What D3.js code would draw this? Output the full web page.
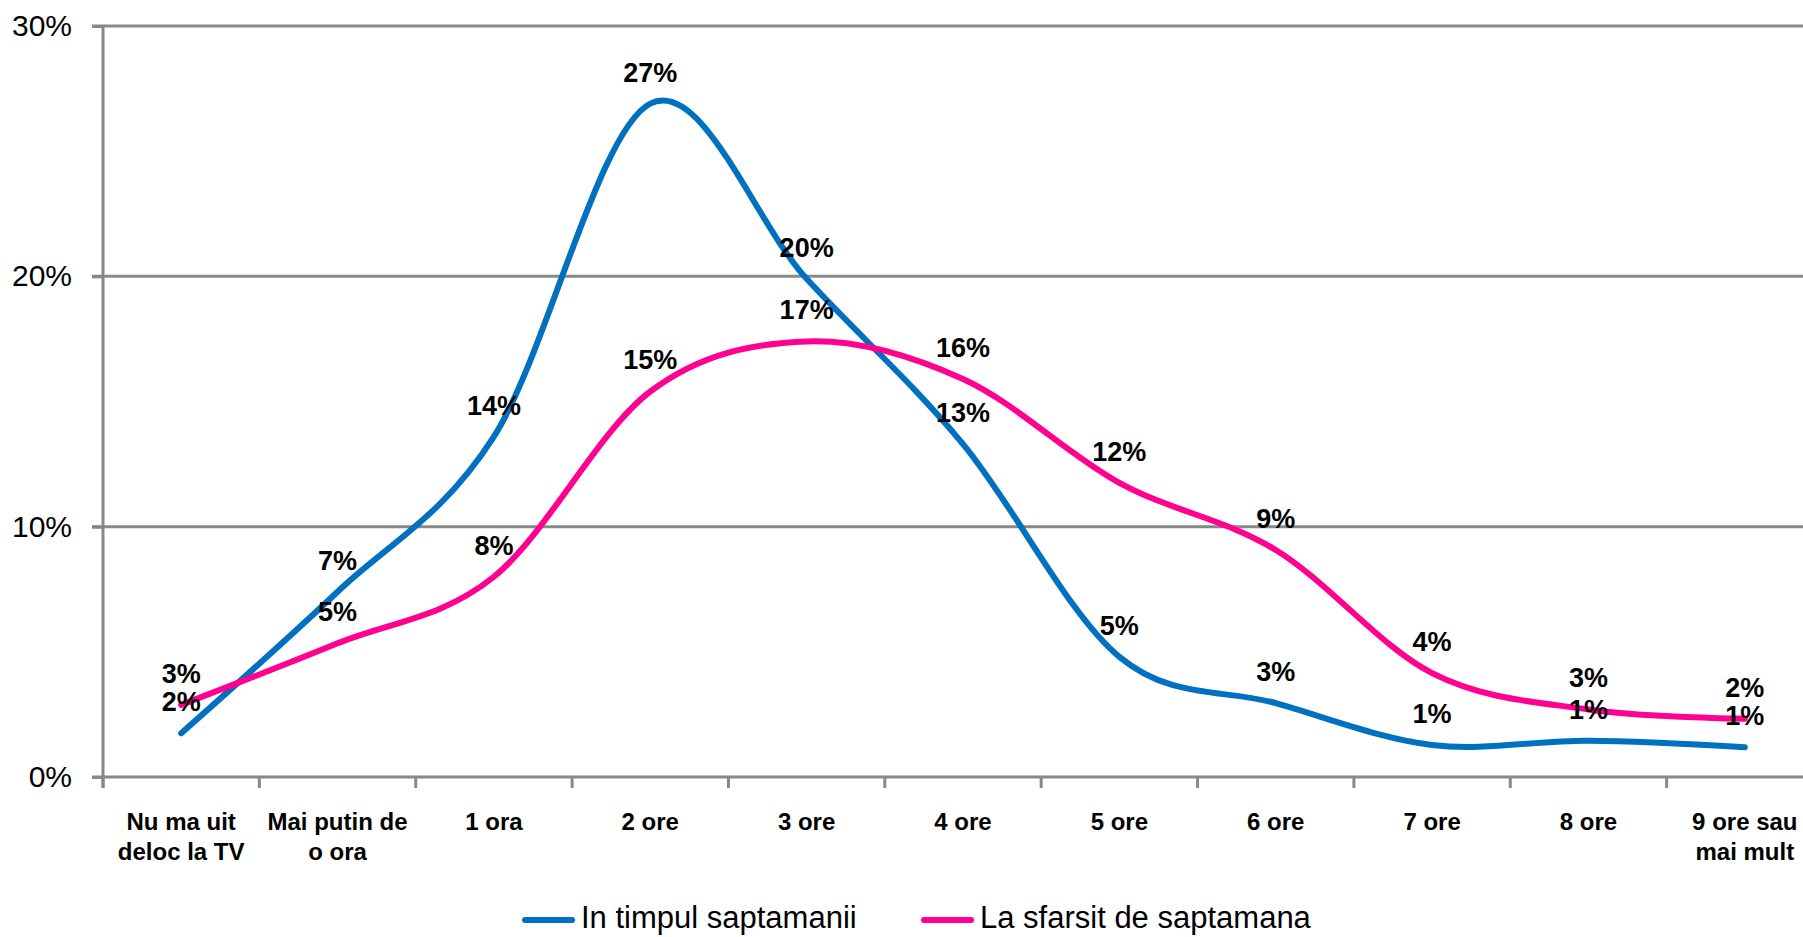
<!DOCTYPE html>
<html>
<head>
<meta charset="utf-8">
<script src="https://cdn.jsdelivr.net/npm/d3@7"></script>
<style>
  html, body { margin: 0; padding: 0; background: #fff; }
  svg { display: block; }
  text { font-family: "Liberation Sans", Arial, sans-serif; fill: #000; }
</style>
</head>
<body>
<svg id="chart" width="1803" height="937"></svg>
<script>
const categories = [
  "Nu ma uit\ndeloc la TV", "Mai putin de\no ora", "1 ora", "2 ore", "3 ore",
  "4 ore", "5 ore", "6 ore", "7 ore", "8 ore", "9 ore sau\nmai mult"
];
const seriesNames = ["In timpul saptamanii", "La sfarsit de saptamana"];
const weekdayValues = [1.75, 7.4, 13.6, 26.9, 19.9, 13.3, 4.8, 2.95, 1.28, 1.45, 1.19];
const weekendValues = [2.88, 5.34, 8.0, 15.4, 17.4, 15.9, 11.75, 9.07, 4.15, 2.70, 2.33];
const yTicks = [0, 10, 20, 30];
const colors = ["#0070C0", "#FF0090"];

(function () {
const svg = d3.select("#chart");
const plotLeft = 103, plotRight = 1823, plotTop = 26, plotBottom = 777;

const x = d3.scaleBand().domain(categories).range([plotLeft, plotRight]).paddingInner(0).paddingOuter(0);
const y = d3.scaleLinear().domain([0, 30]).range([plotBottom, plotTop]);
const cx = c => x(c) + x.bandwidth() / 2;

const gridColor = "#888888";

// gridlines
svg.append("g").selectAll("line").data(yTicks).join("line")
  .attr("x1", plotLeft - 11).attr("x2", 1803)
  .attr("y1", d => y(d)).attr("y2", d => y(d))
  .attr("stroke", gridColor).attr("stroke-width", 3);

// y axis
const yAxis = svg.append("g").attr("transform", `translate(${plotLeft},0)`)
  .call(d3.axisLeft(y).tickValues(yTicks).tickFormat(d => d + "%").tickSize(11).tickPadding(20));
yAxis.select(".domain").attr("stroke", gridColor).attr("stroke-width", 3)
  .attr("d", `M0,${plotTop}V${plotBottom + 11}`);
yAxis.selectAll(".tick line").attr("stroke", gridColor).attr("stroke-width", 3);
yAxis.selectAll(".tick text")
  .style("font-family", '"Liberation Sans", Arial, sans-serif')
  .style("font-size", "30px").attr("fill", "#000");

// x axis boundary ticks
const bounds = categories.map(c => x(c)).concat([plotRight]);
svg.append("g").selectAll("line").data(bounds).join("line")
  .attr("x1", d => d).attr("x2", d => d)
  .attr("y1", plotBottom).attr("y2", plotBottom + 11)
  .attr("stroke", gridColor).attr("stroke-width", 3);

// category labels
const catG = svg.append("g");
categories.forEach(c => {
  const lines = c.split("\n");
  const t = catG.append("text")
    .attr("x", cx(c)).attr("y", 830)
    .attr("text-anchor", "middle")
    .style("font-size", "24px").style("font-weight", "bold");
  lines.forEach((ln, i) => {
    t.append("tspan").attr("x", cx(c)).attr("dy", i === 0 ? 0 : 30).text(ln);
  });
});

// lines
const allSeries = [weekdayValues, weekendValues];
const lineGen = d3.line()
  .x((d, i) => cx(categories[i]))
  .y(d => y(d))
  .curve(d3.curveCardinal.tension(0));

allSeries.forEach((vals, si) => {
  svg.append("path").datum(vals)
    .attr("d", lineGen)
    .attr("fill", "none")
    .attr("stroke", colors[si])
    .attr("stroke-width", 6)
    .attr("stroke-linecap", "round")
    .attr("stroke-linejoin", "round");
});

// data labels
allSeries.forEach((vals, si) => {
  svg.append("g").selectAll("text").data(vals).join("text")
    .attr("x", (d, i) => cx(categories[i]))
    .attr("y", d => y(d) - 22)
    .attr("text-anchor", "middle")
    .style("font-size", "27px").style("font-weight", "bold")
    .text(d => Math.round(d) + "%");
});

// legend
const legendItems = [
  { name: seriesNames[0], color: colors[0], x0: 522 },
  { name: seriesNames[1], color: colors[1], x0: 921 }
];
legendItems.forEach(it => {
  svg.append("line")
    .attr("x1", it.x0 + 3).attr("x2", it.x0 + 50)
    .attr("y1", 920).attr("y2", 920)
    .attr("stroke", it.color).attr("stroke-width", 6).attr("stroke-linecap", "round");
  svg.append("text")
    .attr("x", it.x0 + 59).attr("y", 928)
    .style("font-size", "31px")
    .text(it.name);
});
})();
</script>
</body>
</html>
